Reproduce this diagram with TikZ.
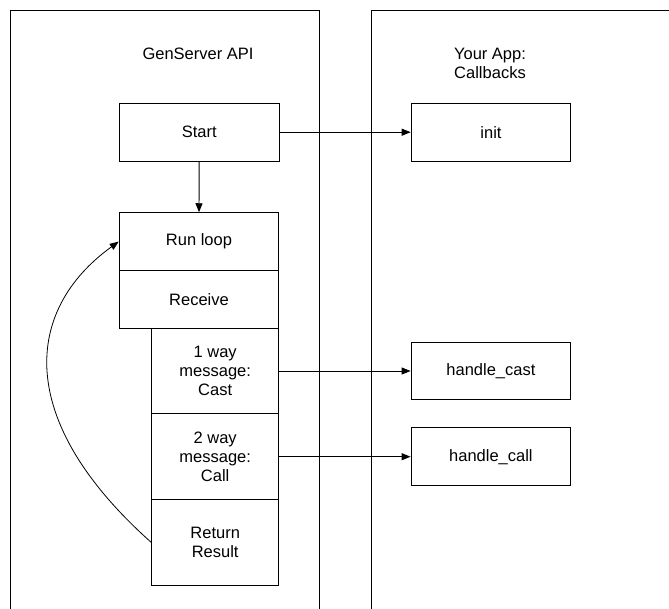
\documentclass[tikz,border=0pt]{standalone}
\usepackage{fontspec}
\setmainfont{Liberation Sans}
\usetikzlibrary{arrows.meta}
\begin{document}
\begin{tikzpicture}[x=1pt,y=-1pt,
  every node/.style={font=\fontsize{16.5}{19}\selectfont, inner sep=0pt, align=center},
  box/.style={draw, line width=0.9pt, minimum width=159.7pt, minimum height=57.8pt},
  msgbox/.style={draw, line width=0.9pt, minimum width=127pt, minimum height=85.7pt},
  column/.style={draw, line width=0.9pt, anchor=north west},
  conn/.style={line width=0.9pt, -{Triangle[length=9pt,width=7pt]}}
]
\useasboundingbox (0,0) rectangle (669,608);
\clip (0,0) rectangle (669,608);
% columns
\node[column, minimum width=309.5pt, minimum height=640pt] (gencol) at (9.5,9.5) {};
\node[column, minimum width=320pt, minimum height=640pt] (appcol) at (370.5,9.5) {};
\node (gentitle) at (198,54) {GenServer API};
\node (apptitle) at (490,63.5) {Your App:\\Callbacks};
% left boxes
\node[box] (start) at (199.2,132.2) {Start};
\node[box] (runloop) at (199,241.6) {Run loop};
\node[box, minimum height=57.5pt] (receive) at (199,299.25) {Receive};
\node[msgbox] (cast) at (215.2,371.0) {1 way\\message:\\Cast};
\node[msgbox] (call) at (215.2,456.7) {2 way\\message:\\Call};
\node[msgbox] (ret) at (215.2,542.4) {Return\\Result};
% right boxes
\node[box] (init) at (491,132.2) {init};
\node[box] (hcast) at (490.9,371.0) {handle\_cast};
\node[box] (hcall) at (490.9,456.7) {handle\_call};
% connectors
\draw[conn] (start.east) -- (init.west);
\draw[conn] (start.south) -- (runloop.north);
\draw[conn] (cast.east) -- (hcast.west);
\draw[conn] (call.east) -- (hcall.west);
\draw[conn, line width=0.8pt] (ret.west) .. controls (14,420) and (24,310) .. (runloop.west);
\end{tikzpicture}
\end{document}
